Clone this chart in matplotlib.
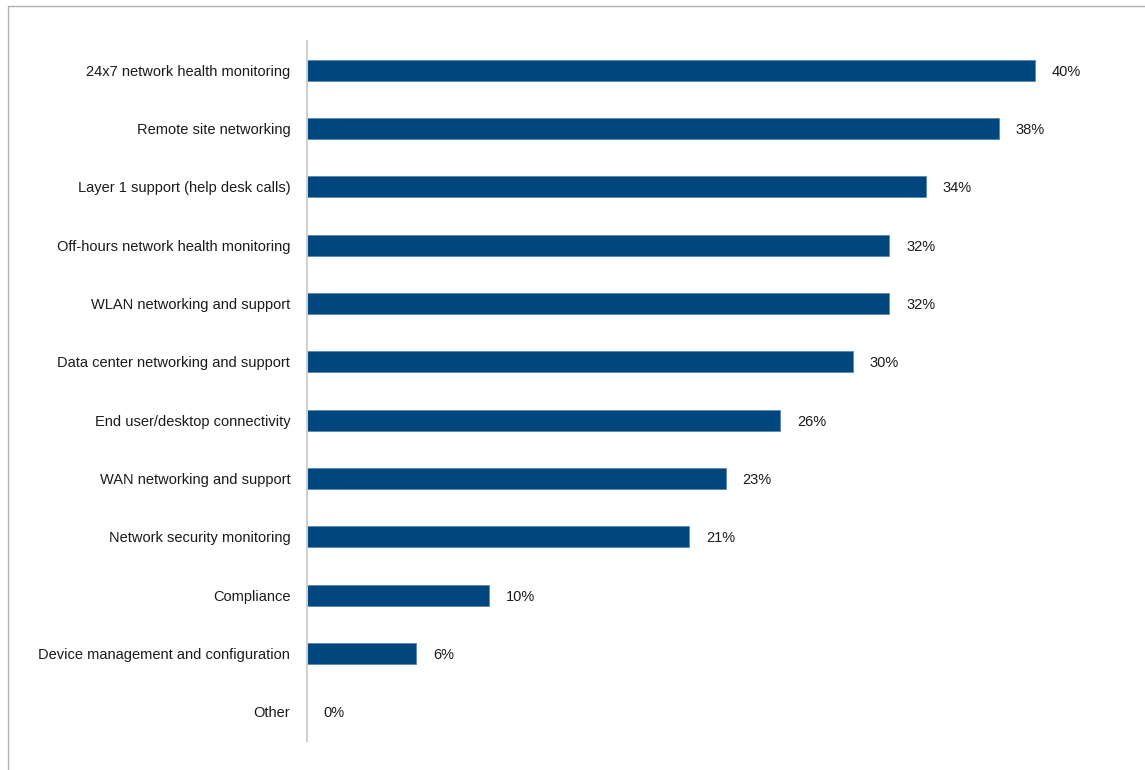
import matplotlib.pyplot as plt
from matplotlib.patches import Rectangle

categories = [
    "24x7 network health monitoring",
    "Remote site networking",
    "Layer 1 support (help desk calls)",
    "Off-hours network health monitoring",
    "WLAN networking and support",
    "Data center networking and support",
    "End user/desktop connectivity",
    "WAN networking and support",
    "Network security monitoring",
    "Compliance",
    "Device management and configuration",
    "Other",
]
values = [40, 38, 34, 32, 32, 30, 26, 23, 21, 10, 6, 0]

plt.rcParams['font.family'] = ['Liberation Sans', 'DejaVu Sans']

fig = plt.figure(figsize=(11.45, 7.7), dpi=100)
# light frame around the chart area
fig.patches.append(Rectangle((8 / 1145, -0.01), 1.02, 1 - 6 / 770 + 0.01,
                             transform=fig.transFigure, fill=False,
                             edgecolor='#b0b0b0', linewidth=1.0))

ax = fig.add_axes([307 / 1145, 1 - 741 / 770, (1126 - 307) / 1145, 700 / 770])
ypos = list(range(len(categories)))
ax.barh(ypos, values, height=0.36, color='#00467f', edgecolor='#5c86b0', linewidth=0.6)

for y, v in zip(ypos, values):
    ax.annotate(f"{v}%", (v, y), xytext=(12, 0), textcoords='offset points',
                va='center_baseline', ha='left', fontsize=10.5, color='#1a1a1a')

ax.set_xlim(0, 45)
ax.set_ylim(len(categories) - 0.5, -0.5)
ax.set_yticks(ypos)
ax.set_yticklabels(categories, fontsize=10.5, color='#1a1a1a', va='center_baseline')
ax.tick_params(axis='y', length=0, pad=12)
ax.set_xticks([])
for s in ['top', 'right', 'bottom']:
    ax.spines[s].set_visible(False)
ax.spines['left'].set_color('#d0d0d0')
ax.spines['left'].set_linewidth(1.5)

fig.savefig("out.png", dpi=100)
